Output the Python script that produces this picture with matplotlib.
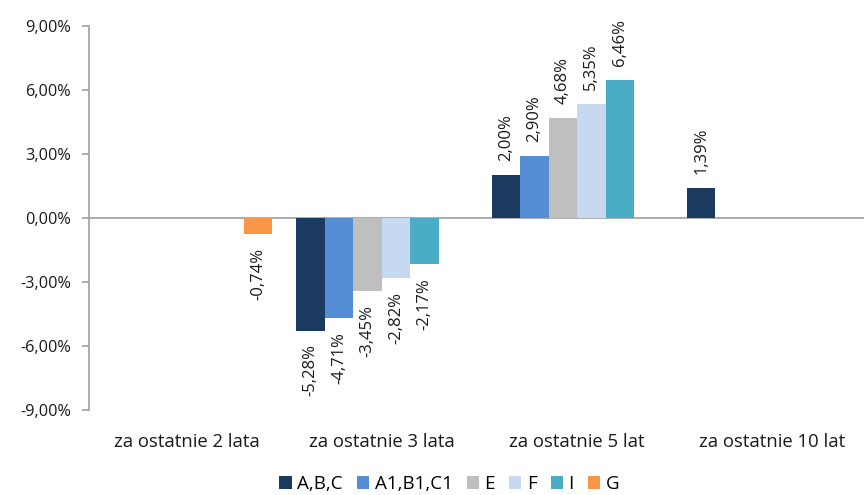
import numpy as np
import matplotlib
matplotlib.use("Agg")
import matplotlib.pyplot as plt
from matplotlib.ticker import FuncFormatter

plt.rcParams['font.family'] = ['Open Sans', 'DejaVu Sans']

# dane
categories = ["za ostatnie 2 lata", "za ostatnie 3 lata", "za ostatnie 5 lat", "za ostatnie 10 lat"]
series = ["A,B,C", "A1,B1,C1", "E", "F", "I", "G"]
abc = [np.nan, -5.28, 2.00, 1.39]
a1b1c1 = [np.nan, -4.71, 2.90, np.nan]
e = [np.nan, -3.45, 4.68, np.nan]
f = [np.nan, -2.82, 5.35, np.nan]
i_ = [np.nan, -2.17, 6.46, np.nan]
g = [-0.74, np.nan, np.nan, np.nan]
values = [abc, a1b1c1, e, f, i_, g]
colors = ["#1b3a5f", "#558ed5", "#bfbfbf", "#c6d9f1", "#4bacc6", "#f79646"]

fig = plt.figure(figsize=(8.64, 4.95), dpi=100)
ax = fig.add_axes([0.103, 0.172, 0.904, 0.7755])

x = np.arange(len(categories))
w = 0.146
for k, (name, vals, col) in enumerate(zip(series, values, colors)):
    xs = x + (k - 2.5) * w
    ax.bar(xs, vals, width=w, color=col, label=name, zorder=2)
    for xx, v in zip(xs, vals):
        if np.isnan(v):
            continue
        txt = f"{v:.2f}%".replace(".", ",")
        ax.annotate(txt, (xx, v), xytext=(0, 10 if v > 0 else -10),
                    textcoords="offset points", rotation=90,
                    ha="center", va="bottom" if v > 0 else "top",
                    fontsize=12, color="#1a1a1a")

ax.set_xlim(-0.5, 3.5)
ax.set_ylim(-9, 9)
ax.set_yticks([-9, -6, -3, 0, 3, 6, 9])
ax.yaxis.set_major_formatter(FuncFormatter(lambda v, p: f"{v:.2f}%".replace(".", ",")))
ax.axhline(0, color="#a6a6a6", lw=1.3, zorder=1)

ax.set_xticks(x)
ax.set_xticklabels(categories)
ax.tick_params(axis="x", length=0, pad=17, labelsize=13.3, labelcolor="#1a1a1a")
ax.tick_params(axis="y", length=5, width=1.3, color="#a6a6a6", labelsize=11.7,
               labelcolor="#1a1a1a", pad=8)
for s in ["top", "right", "bottom"]:
    ax.spines[s].set_visible(False)
ax.spines["left"].set_color("#a6a6a6")
ax.spines["left"].set_linewidth(1.3)

fig.legend(loc="lower center", bbox_to_anchor=(0.52, -0.03), ncol=6, frameon=False,
           fontsize=13.5, handlelength=0.65, handleheight=0.65, handletextpad=0.3,
           columnspacing=0.75)

fig.savefig("out.png", dpi=100)
